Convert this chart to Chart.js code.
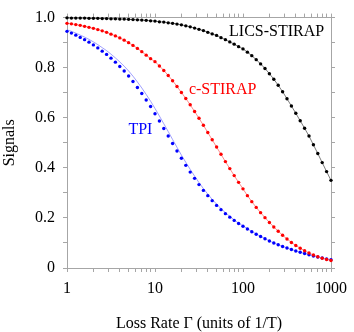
<!DOCTYPE html>
<html>
<head>
<meta charset="utf-8">
<script src="https://cdn.jsdelivr.net/npm/chart.js@4/dist/chart.umd.min.js"></script>
<style>
  body { margin: 0; background: #fff; }
  canvas { display: block; }
</style>
</head>
<body>
<canvas id="graph" width="354" height="332"></canvas>
<script>
// loss rate values (20 points per decade)
const gammaValues = [
  1, 1.122, 1.259, 1.413, 1.585, 1.778, 1.995, 2.239, 2.512, 2.818,
  3.162, 3.548, 3.981, 4.467, 5.012, 5.623, 6.310, 7.079, 7.943, 8.913,
  10, 11.22, 12.59, 14.13, 15.85, 17.78, 19.95, 22.39, 25.12, 28.18,
  31.62, 35.48, 39.81, 44.67, 50.12, 56.23, 63.10, 70.79, 79.43, 89.13,
  100, 112.2, 125.9, 141.3, 158.5, 177.8, 199.5, 223.9, 251.2, 281.8,
  316.2, 354.8, 398.1, 446.7, 501.2, 562.3, 631.0, 707.9, 794.3, 891.3,
  1000
];

const licsSignal = [
  0.999, 0.998, 0.998, 0.998, 0.998, 0.997, 0.997, 0.997, 0.996, 0.996,
  0.995, 0.995, 0.994, 0.994, 0.993, 0.992, 0.991, 0.990, 0.989, 0.987,
  0.986, 0.983, 0.982, 0.979, 0.977, 0.974, 0.971, 0.967, 0.963, 0.958,
  0.953, 0.948, 0.941, 0.935, 0.929, 0.920, 0.912, 0.903, 0.894, 0.884,
  0.875, 0.862, 0.848, 0.832, 0.815, 0.797, 0.776, 0.754, 0.730, 0.704,
  0.676, 0.647, 0.618, 0.588, 0.558, 0.527, 0.492, 0.457, 0.421, 0.385,
  0.350
];

const cStirapSignal = [
  0.977, 0.975, 0.972, 0.969, 0.965, 0.961, 0.957, 0.952, 0.947, 0.941,
  0.934, 0.927, 0.919, 0.910, 0.900, 0.889, 0.877, 0.864, 0.850, 0.836,
  0.824, 0.807, 0.789, 0.769, 0.748, 0.725, 0.701, 0.677, 0.652, 0.625,
  0.598, 0.570, 0.541, 0.512, 0.483, 0.454, 0.425, 0.397, 0.369, 0.342,
  0.316, 0.289, 0.265, 0.242, 0.221, 0.201, 0.182, 0.164, 0.147, 0.131,
  0.116, 0.102, 0.090, 0.079, 0.069, 0.060, 0.052, 0.045, 0.039, 0.034,
  0.030
];

const tpiSignal = [
  0.945, 0.938, 0.930, 0.921, 0.912, 0.902, 0.891, 0.879, 0.866, 0.853,
  0.838, 0.822, 0.805, 0.787, 0.767, 0.745, 0.721, 0.697, 0.671, 0.645,
  0.616, 0.587, 0.557, 0.527, 0.497, 0.467, 0.438, 0.410, 0.383, 0.358,
  0.333, 0.310, 0.289, 0.269, 0.250, 0.233, 0.217, 0.203, 0.190, 0.178,
  0.167, 0.156, 0.145, 0.135, 0.126, 0.117, 0.108, 0.100, 0.093, 0.086,
  0.080, 0.074, 0.068, 0.063, 0.058, 0.053, 0.048, 0.044, 0.040, 0.036,
  0.033
];

// thin blue curve, runs a little above the TPI dots
const tpiCurve = [
  0.951, 0.945, 0.938, 0.930, 0.922, 0.913, 0.903, 0.892, 0.880, 0.868,
  0.854, 0.839, 0.823, 0.806, 0.787, 0.766, 0.743, 0.719, 0.693, 0.666,
  0.637, 0.607, 0.576, 0.545, 0.513, 0.482, 0.451, 0.422, 0.394, 0.367,
  0.341, 0.317, 0.295, 0.274, 0.255, 0.237, 0.221, 0.206, 0.192, 0.179,
  0.168, 0.157, 0.146, 0.136, 0.126, 0.117, 0.108, 0.100, 0.093, 0.086,
  0.080, 0.074, 0.068, 0.063, 0.058, 0.053, 0.048, 0.044, 0.040, 0.036,
  0.033
];

// tick positions and labels
const xTickValues = [1, 2, 3, 4, 5, 6, 7, 8, 9, 10, 20, 30, 40, 50, 60, 70, 80, 90,
  100, 200, 300, 400, 500, 600, 700, 800, 900, 1000];
const xLabelValues = [1, 10, 100, 1000];
const xLabelText = ['1', '10', '100', '1000'];
const yTickValues = [0, 0.1, 0.2, 0.3, 0.4, 0.5, 0.6, 0.7, 0.8, 0.9, 1.0];
const yLabelValues = [0, 0.2, 0.4, 0.6, 0.8, 1.0];
const yLabelText = ['0', '0.2', '0.4', '0.6', '0.8', '1.0'];

// curve names written inside the plot
const curveNames = ['LICS-STIRAP', 'c-STIRAP', 'TPI'];
const curveNameX = [69.5, 24.3, 4.99];
const curveNameY = [0.926, 0.695, 0.535];
const curveNameColors = ['#000000', '#ff0000', '#0000ff'];

const serif = '"Liberation Serif", "Times New Roman", serif';
const frameColor = '#a6a6a6';

function pairs(ys) {
  return ys.map((y, i) => ({ x: gammaValues[i], y: y }));
}

function setTicks(values) {
  return function(scale) {
    scale.ticks = values.map(v => ({ value: v }));
  };
}

function frameAxis(extra) {
  const base = {
    grid: { drawOnChartArea: false, drawTicks: true, tickLength: 4, color: frameColor, tickColor: frameColor },
    border: { display: true, color: frameColor, width: 1 },
  };
  return Object.assign(base, extra);
}

const curveNamePlugin = {
  id: 'curveNames',
  afterDatasetsDraw(chart) {
    const ctx = chart.ctx;
    const xs = chart.scales.x;
    const ys = chart.scales.y;
    ctx.save();
    ctx.font = '16px ' + serif;
    ctx.textAlign = 'left';
    ctx.textBaseline = 'alphabetic';
    for (let i = 0; i < curveNames.length; i++) {
      ctx.fillStyle = curveNameColors[i];
      ctx.fillText(curveNames[i], xs.getPixelForValue(curveNameX[i]), ys.getPixelForValue(curveNameY[i]));
    }
    ctx.restore();
  }
};

const ctx = document.getElementById('graph').getContext('2d');

const chart = new Chart(ctx, {
  type: 'line',
  data: {
    datasets: [
      {
        label: 'LICS-STIRAP',
        data: pairs(licsSignal),
        borderColor: 'rgba(90, 90, 90, 0.8)',
        borderWidth: 1,
        pointRadius: 1.7,
        pointBorderWidth: 0,
        pointBackgroundColor: '#000000',
        clip: false,
      },
      {
        label: 'c-STIRAP',
        data: pairs(cStirapSignal),
        borderColor: 'rgba(255, 110, 110, 0.8)',
        borderWidth: 1,
        pointRadius: 1.7,
        pointBorderWidth: 0,
        pointBackgroundColor: '#ff0000',
        clip: false,
      },
      {
        label: 'TPI',
        data: pairs(tpiSignal),
        showLine: false,
        pointRadius: 1.7,
        pointBorderWidth: 0,
        pointBackgroundColor: '#0000ff',
        clip: false,
      },
      {
        label: 'TPI curve',
        data: pairs(tpiCurve),
        borderColor: 'rgba(120, 120, 255, 0.7)',
        borderWidth: 1,
        pointRadius: 0,
        cubicInterpolationMode: 'monotone',
      },
    ]
  },
  options: {
    responsive: false,
    animation: false,
    layout: { padding: 0 },
    plugins: {
      legend: { display: false },
      tooltip: { enabled: false },
    },
    scales: {
      x: frameAxis({
        type: 'logarithmic',
        position: 'bottom',
        min: 1,
        max: 1000,
        afterBuildTicks: setTicks(xTickValues),
        afterFit: s => { s.height = 64; },
        ticks: {
          autoSkip: false,
          maxRotation: 0,
          padding: 7,
          color: '#000',
          font: { family: serif, size: 16 },
          callback: v => {
            const i = xLabelValues.indexOf(v);
            return i >= 0 ? xLabelText[i] : '';
          }
        },
        title: {
          display: true,
          text: 'Loss Rate Γ (units of 1/T)',
          color: '#000',
          font: { family: serif, size: 16, lineHeight: 1 },
          padding: { top: 0, bottom: 0 },
        },
      }),
      xTop: frameAxis({
        type: 'logarithmic',
        position: 'top',
        min: 1,
        max: 1000,
        afterBuildTicks: setTicks(xTickValues),
        afterFit: s => { s.height = 6.5; },
        ticks: { display: false, autoSkip: false },
      }),
      y: frameAxis({
        type: 'linear',
        position: 'left',
        min: 0,
        max: 1,
        afterBuildTicks: setTicks(yTickValues),
        afterFit: s => { s.width = 67; },
        ticks: {
          autoSkip: false,
          padding: 8,
          color: '#000',
          font: { family: serif, size: 16 },
          callback: v => {
            const i = yLabelValues.indexOf(v);
            return i >= 0 ? yLabelText[i] : '';
          }
        },
        title: {
          display: true,
          text: 'Signals',
          color: '#000',
          font: { family: serif, size: 16, lineHeight: 1 },
          padding: { top: 2, bottom: 0 },
        },
      }),
      yRight: frameAxis({
        type: 'linear',
        position: 'right',
        min: 0,
        max: 1,
        afterBuildTicks: setTicks(yTickValues),
        afterFit: s => { s.width = 17; },
        ticks: { display: false, autoSkip: false },
      }),
    }
  },
  plugins: [curveNamePlugin]
});
</script>
</body>
</html>
